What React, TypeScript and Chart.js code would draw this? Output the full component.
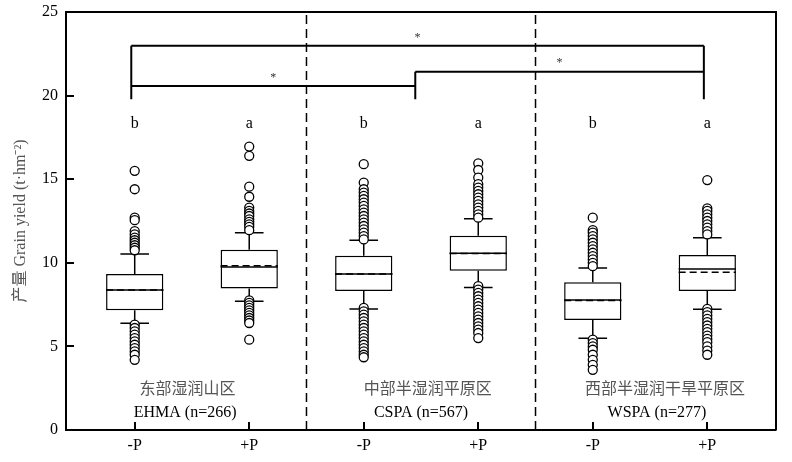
import { useEffect, useRef } from "react";
import { Chart, registerables } from "chart.js";

Chart.register(...registerables);

// ---------- data ----------
const positions = [1, 2, 3, 4, 5, 6];
const xLabels = ["-P", "+P", "-P", "+P", "-P", "+P"];
const q1 = [7.16, 8.47, 8.31, 9.53, 6.58, 8.31];
const median = [8.37, 9.75, 9.33, 10.57, 7.78, 9.63];
const mean = [8.37, 9.83, 9.33, 10.55, 7.74, 9.43];
const q3 = [9.33, 10.78, 10.42, 11.62, 8.83, 10.47];
const whiskerLow = [6.38, 7.7, 7.24, 8.53, 5.48, 7.22];
const whiskerHigh = [10.53, 11.8, 11.35, 12.64, 9.69, 11.5];
const outliers1 = [15.5, 14.4, 12.7, 12.55, 11.9, 11.7, 11.5, 11.35, 11.2, 11.05, 10.9, 10.75, 6.3, 6.1, 5.9, 5.7, 5.5, 5.3, 5.1, 4.9, 4.7, 4.5, 4.2];
const outliers2 = [16.95, 16.4, 14.55, 13.95, 13.3, 13.1, 12.95, 12.8, 12.6, 12.45, 12.3, 12.15, 11.95, 7.75, 7.6, 7.45, 7.3, 7.15, 7.0, 6.85, 6.7, 6.55, 6.4, 5.4];
const outliers3 = [15.9, 14.8, 14.4, 14.2, 14.0, 13.8, 13.6, 13.4, 13.2, 13.0, 12.8, 12.6, 12.4, 12.2, 12.0, 11.8, 11.6, 11.4, 7.3, 7.1, 6.9, 6.7, 6.5, 6.3, 6.1, 5.9, 5.7, 5.5, 5.3, 5.1, 4.9, 4.7, 4.5, 4.35];
const outliers4 = [15.95, 15.55, 15.1, 14.7, 14.5, 14.3, 14.1, 13.9, 13.7, 13.5, 13.3, 13.1, 12.9, 12.7, 8.6, 8.4, 8.2, 8.0, 7.8, 7.6, 7.4, 7.2, 7.0, 6.8, 6.6, 6.4, 6.2, 6.0, 5.8, 5.5];
const outliers5 = [12.7, 11.95, 11.8, 11.6, 11.4, 11.2, 11.0, 10.8, 10.6, 10.4, 10.2, 10.0, 9.8, 5.4, 5.2, 5.0, 4.8, 4.5, 4.2, 3.9, 3.6];
const outliers6 = [14.95, 13.25, 13.1, 12.9, 12.7, 12.5, 12.3, 12.1, 11.9, 11.7, 7.25, 7.05, 6.85, 6.65, 6.45, 6.25, 6.05, 5.85, 5.65, 5.45, 5.25, 5.0, 4.75, 4.5];
const outliers = [outliers1, outliers2, outliers3, outliers4, outliers5, outliers6];
const sigLetters = ["b", "a", "b", "a", "b", "a"];
const sigLetterY = 18.05;

const regionNamesZh = ["东部湿润山区", "中部半湿润平原区", "西部半湿润干旱平原区"];
const regionNamesEn = ["EHMA (n=266)", "CSPA (n=567)", "WSPA (n=277)"];
const regionZhX = [1.46, 3.56, 5.63];
const regionEnX = [1.44, 3.5, 5.56];
const regionZhY = 2.4;
const regionEnY = 0.78;
const separators = [2.5, 4.5];

const bracketFrom = [0.97, 0.97, 3.45];
const bracketTo = [5.97, 3.45, 5.97];
const bracketY = [22.98, 20.57, 21.43];
const bracketBase = 19.78;
const bracketMarks = ["*", "*", "*"];

const yTicks = [0, 5, 10, 15, 20, 25];
const yTitle = "产量 Grain yield (t·hm⁻²)";

// ---------- helpers ----------
const SERIF = "'Liberation Serif', 'Times New Roman', 'Noto Sans CJK SC', serif";
const BOX_HALF = 0.25;
const CAP_HALF = 0.125;
const TICK_LEN = 8;

function segs(list: number[][]) {
  const out: any[] = [];
  list.forEach(([x1, y1, x2, y2]) => {
    out.push({ x: x1, y: y1 }, { x: x2, y: y2 }, { x: x2, y: null });
  });
  return out;
}

const lineBase = {
  type: "line" as const,
  pointRadius: 0,
  borderColor: "#000",
  borderWidth: 1.5,
  fill: false,
  spanGaps: false,
  tension: 0,
};

export default function App() {
  const ref = useRef<HTMLCanvasElement | null>(null);

  useEffect(() => {
    if (!ref.current) return;

    const whiskerSegs: number[][] = [];
    const medianSegs: number[][] = [];
    const meanSegs: number[][] = [];
    positions.forEach((p, i) => {
      whiskerSegs.push([p, q3[i], p, whiskerHigh[i]]);
      whiskerSegs.push([p, q1[i], p, whiskerLow[i]]);
      whiskerSegs.push([p - CAP_HALF, whiskerHigh[i], p + CAP_HALF, whiskerHigh[i]]);
      whiskerSegs.push([p - CAP_HALF, whiskerLow[i], p + CAP_HALF, whiskerLow[i]]);
      medianSegs.push([p - BOX_HALF, median[i], p + BOX_HALF, median[i]]);
      meanSegs.push([p - BOX_HALF, mean[i], p + BOX_HALF, mean[i]]);
    });
    const sepSegs = separators.map((s) => [s, 0, s, 25]);
    const bracketSegs: number[][] = [];
    bracketFrom.forEach((a, i) => {
      const b = bracketTo[i];
      const y = bracketY[i];
      bracketSegs.push([a, bracketBase, a, y]);
      bracketSegs.push([a, y, b, y]);
      bracketSegs.push([b, y, b, bracketBase]);
    });
    const outlierPts: any[] = [];
    outliers.forEach((arr, i) => arr.forEach((v) => outlierPts.push({ x: positions[i], y: v })));

    const annotations = {
      id: "annotations",
      afterDraw(chart: any) {
        const { ctx, scales, chartArea } = chart;
        const xs = scales.x;
        const ys = scales.y;
        ctx.save();
        ctx.setLineDash([]);
        // frame top & right
        ctx.strokeStyle = "#000";
        ctx.lineWidth = 2;
        ctx.beginPath();
        ctx.moveTo(chartArea.left, chartArea.top);
        ctx.lineTo(chartArea.right, chartArea.top);
        ctx.lineTo(chartArea.right, chartArea.bottom);
        ctx.stroke();

        // inward tick marks on the scales
        ctx.lineWidth = 2;
        ctx.strokeStyle = "#000";
        yTicks.forEach((v) => {
          const py = Math.round(ys.getPixelForValue(v));
          ctx.beginPath();
          ctx.moveTo(chartArea.left, py);
          ctx.lineTo(chartArea.left + TICK_LEN, py);
          ctx.stroke();
        });
        positions.forEach((v) => {
          const px = Math.round(xs.getPixelForValue(v));
          ctx.beginPath();
          ctx.moveTo(px, chartArea.bottom);
          ctx.lineTo(px, chartArea.bottom - TICK_LEN);
          ctx.stroke();
        });

        ctx.textAlign = "center";
        ctx.fillStyle = "#000";
        ctx.font = `16px ${SERIF}`;
        ctx.textBaseline = "alphabetic";
        sigLetters.forEach((t, i) => {
          ctx.fillText(t, xs.getPixelForValue(positions[i]), ys.getPixelForValue(sigLetterY));
        });
        regionNamesEn.forEach((t, i) => {
          ctx.fillText(t, xs.getPixelForValue(regionEnX[i]), ys.getPixelForValue(regionEnY));
        });
        ctx.fillStyle = "#555";
        ctx.textBaseline = "middle";
        regionNamesZh.forEach((t, i) => {
          ctx.fillText(t, xs.getPixelForValue(regionZhX[i]), ys.getPixelForValue(regionZhY));
        });
        ctx.font = `12px ${SERIF}`;
        ctx.fillStyle = "#333";
        bracketMarks.forEach((t, i) => {
          const mx = (bracketFrom[i] + bracketTo[i]) / 2;
          ctx.fillText(t, xs.getPixelForValue(mx), ys.getPixelForValue(bracketY[i] + 0.5));
        });
        ctx.restore();
      },
    };

    const chart = new Chart(ref.current, {
      type: "scatter",
      data: {
        datasets: [
          {
            type: "scatter",
            data: outlierPts,
            pointRadius: 4.5,
            pointBackgroundColor: "#fff",
            pointBorderColor: "#000",
            pointBorderWidth: 1.3,
            order: 1,
          } as any,
          { ...lineBase, data: segs(meanSegs), borderDash: [7, 4], order: 2 } as any,
          { ...lineBase, data: segs(medianSegs), order: 3 } as any,
          { ...lineBase, data: segs(whiskerSegs), order: 4 } as any,
          { ...lineBase, data: segs(sepSegs), borderDash: [9, 5], order: 5 } as any,
          { ...lineBase, data: segs(bracketSegs), borderWidth: 2, order: 6 } as any,
          {
            type: "bar",
            data: positions.map((p, i) => ({ x: p, y: [q1[i], q3[i]] })),
            backgroundColor: "#fff",
            borderColor: "#000",
            borderWidth: 1.5,
            borderSkipped: false,
            categoryPercentage: 0.5,
            barPercentage: 1,
            order: 10,
          } as any,
        ],
      },
      options: {
        responsive: false,
        animation: false,
        layout: { padding: { top: 12, right: 16, left: 0, bottom: 0 } },
        plugins: { legend: { display: false }, tooltip: { enabled: false } },
        scales: {
          x: {
            type: "linear",
            min: 0.4,
            max: 6.6,
            offset: false,
            afterFit: (s: any) => {
              s.height = 32;
              s.paddingLeft = 0;
              s.paddingRight = 0;
            },
            afterBuildTicks: (s: any) => {
              s.ticks = positions.map((v) => ({ value: v }));
            },
            ticks: {
              autoSkip: false,
              maxRotation: 0,
              padding: 6,
              color: "#000",
              font: { family: SERIF, size: 16 },
              callback: (v: any) => {
                const i = positions.indexOf(Number(v));
                return i >= 0 ? xLabels[i] : "";
              },
            },
            grid: { offset: false, drawOnChartArea: false, drawTicks: false, color: "#000", lineWidth: 1.5 },
            border: { display: true, color: "#000", width: 2 },
          },
          y: {
            type: "linear",
            min: 0,
            max: 25,
            afterFit: (s: any) => {
              s.width = 66;
              s.paddingTop = 0;
              s.paddingBottom = 0;
            },
            afterBuildTicks: (s: any) => {
              s.ticks = yTicks.map((v) => ({ value: v }));
            },
            ticks: {
              padding: 8,
              color: "#000",
              font: { family: SERIF, size: 16 },
            },
            title: {
              display: true,
              text: yTitle,
              color: "#555",
              padding: { top: 11, bottom: 0 },
              font: { family: SERIF, size: 16 },
            },
            grid: { offset: false, drawOnChartArea: false, drawTicks: false, color: "#000", lineWidth: 1.5 },
            border: { display: true, color: "#000", width: 2 },
          },
        },
      },
      plugins: [annotations],
    } as any);

    return () => chart.destroy();
  }, []);

  return (
    <div style={{ position: "absolute", left: 0, top: 0, width: 792, height: 462, background: "#fff" }}>
      <canvas ref={ref} width={792} height={462} style={{ width: 792, height: 462 }} />
    </div>
  );
}
